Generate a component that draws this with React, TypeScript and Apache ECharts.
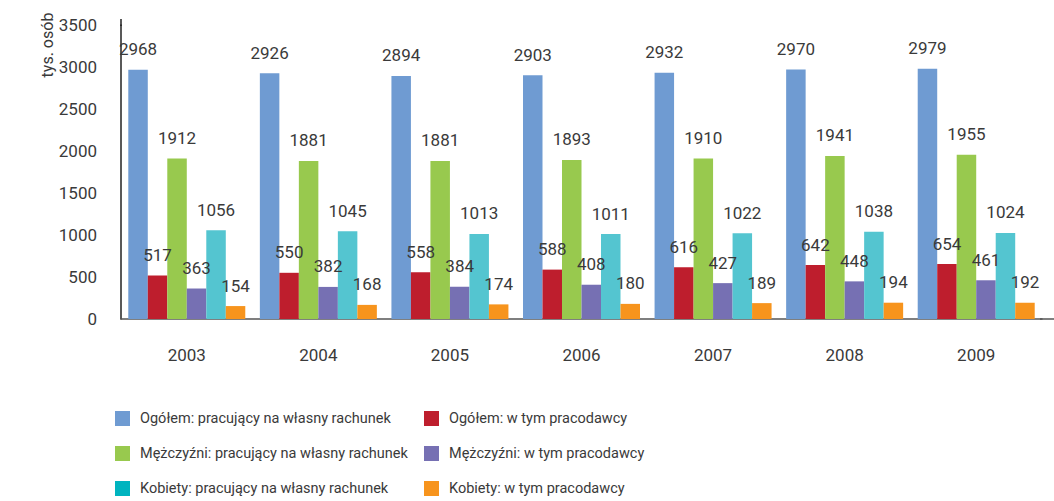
import React, { useEffect, useRef } from "react";
import * as echarts from "echarts";

const years = ["2003", "2004", "2005", "2006", "2007", "2008", "2009"];
const ogolemWlasny = [2968, 2926, 2894, 2903, 2932, 2970, 2979];
const ogolemPracodawcy = [517, 550, 558, 588, 616, 642, 654];
const mezczyzniWlasny = [1912, 1881, 1881, 1893, 1910, 1941, 1955];
const mezczyzniPracodawcy = [363, 382, 384, 408, 427, 448, 461];
const kobietyWlasny = [1056, 1045, 1013, 1011, 1022, 1038, 1024];
const kobietyPracodawcy = [154, 168, 174, 180, 189, 194, 192];

const yTicks = [0, 500, 1000, 1500, 2000, 2500, 3000, 3500];

const FONT = "Roboto, 'Noto Sans', sans-serif";
const TXT = "#3a3a3a";

const seriesDefs = [
  { name: "Ogółem: pracujący na własny rachunek", data: ogolemWlasny, color: "#6f9bd2", legend: "#6f9bd2" },
  { name: "Ogółem: w tym pracodawcy", data: ogolemPracodawcy, color: "#be1e2d", legend: "#be1e2d" },
  { name: "Mężczyźni: pracujący na własny rachunek", data: mezczyzniWlasny, color: "#98c94e", legend: "#98c94e" },
  { name: "Mężczyźni: w tym pracodawcy", data: mezczyzniPracodawcy, color: "#7670b3", legend: "#7670b3" },
  { name: "Kobiety: pracujący na własny rachunek", data: kobietyWlasny, color: "#54c5d0", legend: "#00b4bf" },
  { name: "Kobiety: w tym pracodawcy", data: kobietyPracodawcy, color: "#f7941d", legend: "#f7941d" },
];

export default function App() {
  const ref = useRef<HTMLDivElement>(null);
  useEffect(() => {
    document.body.style.margin = "0";
    if (!ref.current) return;
    const chart = echarts.init(ref.current, null, { renderer: "svg" });
    const legendItem = (i: number) => ({
      name: seriesDefs[i].name,
      itemStyle: { color: seriesDefs[i].legend },
    });
    const legendCommon = {
      orient: "vertical",
      top: 411,
      height: 90,
      itemWidth: 15,
      itemHeight: 15,
      itemGap: 20,
      icon: "rect",
      padding: 0,
      textStyle: {
        color: TXT,
        fontFamily: FONT,
        fontSize: 14.5,
        lineHeight: 15,
        padding: [0, 0, 0, 5],
      },
    };
    chart.setOption({
      animation: false,
      backgroundColor: "#ffffff",
      grid: { left: 121, right: 12, top: 25, bottom: 182, containLabel: false },
      xAxis: {
        type: "category",
        data: years,
        axisLine: { show: true, lineStyle: { color: "#555555", width: 1.5 } },
        axisTick: { show: false },
        axisLabel: { color: TXT, fontFamily: FONT, fontSize: 17, margin: 27 },
      },
      yAxis: {
        type: "value",
        min: 0,
        max: yTicks[yTicks.length - 1],
        interval: 500,
        splitLine: { show: false },
        axisLine: { show: true, lineStyle: { color: "#222222", width: 1.5 } },
        axisTick: { show: false },
        axisLabel: {
          color: TXT,
          fontFamily: FONT,
          fontSize: 17,
          margin: 24,
          formatter: (v: number) => String(v),
        },
      },
      legend: [
        { ...legendCommon, left: 115, data: [legendItem(0), legendItem(2), legendItem(4)] },
        { ...legendCommon, left: 424, data: [legendItem(1), legendItem(3), legendItem(5)] },
      ],
      graphic: [
        {
          type: "text",
          x: 47,
          y: 45,
          rotation: Math.PI / 2,
          style: {
            text: "tys. osób",
            fill: TXT,
            font: `16px ${FONT}`,
            textAlign: "center",
            textVerticalAlign: "middle",
          },
        },
        {
          type: "line",
          shape: { x1: 1040, y1: 319, x2: 1054, y2: 319 },
          style: { stroke: "#555555", lineWidth: 1.5 },
        },
        {
          type: "line",
          shape: { x1: 121, y1: 19, x2: 121, y2: 26 },
          style: { stroke: "#222222", lineWidth: 1.5 },
        },
      ],
      series: seriesDefs.map((s) => ({
        name: s.name,
        type: "bar",
        data: s.data,
        barWidth: 19.5,
        barGap: "0%",
        itemStyle: { color: s.color },
        label: {
          show: true,
          position: "top",
          distance: 12,
          color: TXT,
          fontFamily: FONT,
          fontSize: 17,
        },
      })),
    });
    return () => chart.dispose();
  }, []);
  return <div ref={ref} style={{ width: 1054, height: 501 }} />;
}
